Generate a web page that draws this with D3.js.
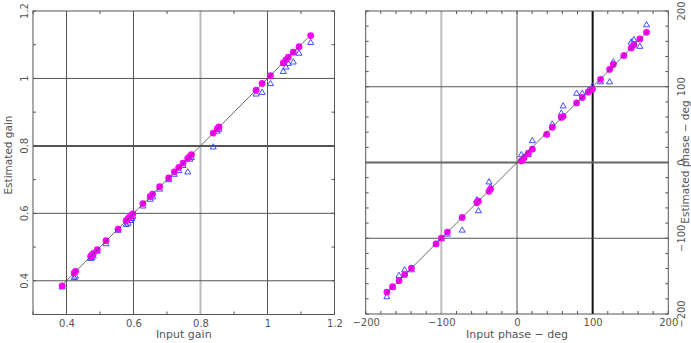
<!DOCTYPE html>
<html>
<head>
<meta charset="utf-8">
<script src="https://cdn.jsdelivr.net/npm/d3@7"></script>
<style>
  body { margin: 0; background: #fff; }
  text { font-family: "DejaVu Sans", sans-serif; fill: #555; }
</style>
</head>
<body>
<svg id="chart" width="691" height="343"></svg>
<script>
// gain panel data
const gainInput = [0.387,0.423,0.427,0.472,0.476,0.480,0.492,0.518,0.554,0.578,0.584,0.590,0.595,0.598,0.628,0.650,0.657,0.678,0.705,0.722,0.735,0.748,0.762,0.768,0.773,0.838,0.850,0.855,0.966,0.984,1.009,1.047,1.055,1.062,1.077,1.094,1.129];
const gainEst   = [0.385,0.423,0.428,0.472,0.477,0.481,0.492,0.519,0.553,0.578,0.585,0.590,0.596,0.598,0.629,0.650,0.657,0.679,0.705,0.723,0.736,0.749,0.763,0.769,0.774,0.838,0.851,0.856,0.965,0.985,1.008,1.046,1.055,1.063,1.078,1.094,1.127];
const gainTri   = [0.381,0.409,0.413,0.465,0.468,0.473,0.487,0.509,0.549,0.566,0.570,0.578,0.584,0.590,0.621,0.641,0.648,0.671,0.699,0.715,0.726,0.741,0.722,0.760,0.765,0.796,0.843,0.849,0.953,0.958,0.984,1.020,1.033,1.044,1.048,1.074,1.106];
const gainTicks = [0.4,0.6,0.8,1,1.2];
const gainLabels = ["0.4","0.6","0.8","1","1.2"];

// phase panel data
const phaseInput = [-172,-164.5,-156,-148.5,-139.5,-107,-100,-92,-72.5,-53,-51,-37,-35,5.8,9.2,15,20.3,39.2,46.7,58.6,61,78.8,86.3,94.3,99.5,110.5,122.4,127.3,141.3,151,154.5,162.4,171.2];
const phaseEst   = [-171,-164,-156,-148,-139.4,-107.3,-99.8,-91.9,-72.6,-53,-51,-38,-35,2.2,5.8,12.3,17.6,37.2,46.4,59.5,61,78.7,85.8,93.1,96.7,109.8,122.9,129.4,141.2,151.3,155.3,163.1,171.8];
const phaseTri   = [-177.5,-165,-149.5,-142,-142,-108,-101,-95,-89.6,-49.5,-64,-26,-33,10,7,10,28.5,37,50.4,64.8,74.4,91,91,95,100,106.2,106.2,132.5,141.2,158.7,161.8,153,181.5];
const phaseTicks = [-200,-100,0,100,200];
const phaseLabels = ["\u2212200","\u2212100","0","100","200"];

const svg = d3.select("#chart");
svg.append("rect").attr("width",691).attr("height",343).attr("fill","#fff");

function panel(opt) {
  const x = d3.scaleLinear().domain(opt.domain).range([opt.left, opt.right]);
  const y = d3.scaleLinear().domain(opt.domain).range([opt.bottom, opt.top]);
  const g = svg.append("g");

  // minor ticks on all four sides
  const minor = d3.range(opt.domain[0], opt.domain[1] + opt.minor/2, opt.minor);
  minor.forEach(v => {
    g.append("line").attr("x1",x(v)).attr("x2",x(v)).attr("y1",opt.top).attr("y2",opt.top+3).attr("stroke","#555");
    g.append("line").attr("x1",x(v)).attr("x2",x(v)).attr("y1",opt.bottom).attr("y2",opt.bottom-3).attr("stroke","#555");
    g.append("line").attr("y1",y(v)).attr("y2",y(v)).attr("x1",opt.left).attr("x2",opt.left+3).attr("stroke","#555");
    g.append("line").attr("y1",y(v)).attr("y2",y(v)).attr("x1",opt.right).attr("x2",opt.right-3).attr("stroke","#555");
  });

  // grid lines
  opt.vgrid.forEach(d => {
    g.append("line").attr("x1",x(d.v)).attr("x2",x(d.v)).attr("y1",opt.top).attr("y2",opt.bottom)
      .attr("stroke",d.c).attr("stroke-width",d.w);
  });
  opt.hgrid.forEach(d => {
    g.append("line").attr("y1",y(d.v)).attr("y2",y(d.v)).attr("x1",opt.left).attr("x2",opt.right)
      .attr("stroke",d.c).attr("stroke-width",d.w);
  });

  // frame
  g.append("rect").attr("x",opt.left).attr("y",opt.top)
    .attr("width",opt.right-opt.left).attr("height",opt.bottom-opt.top)
    .attr("fill","none").attr("stroke","#555");

  // bottom tick labels
  const xa = g.append("g").attr("transform","translate(0,"+(opt.bottom+1)+")")
    .call(d3.axisBottom(x).tickValues(opt.ticks).tickFormat((d,i) => opt.labels[i]).tickSize(0).tickPadding(4));
  xa.select(".domain").remove();
  xa.selectAll("text").style("font-size","10px").attr("fill","#555");

  // side tick labels, rotated
  opt.ticks.forEach((v,i) => {
    g.append("text").attr("transform","translate("+opt.ylabX+","+y(v)+") rotate(-90)")
      .attr("text-anchor","middle").attr("dy","0.35em").style("font-size","10px").text(opt.labels[i]);
  });

  // titles
  g.append("text").attr("x",(opt.left+opt.right)/2).attr("y",338)
    .attr("text-anchor","middle").style("font-size","11px").text(opt.xtitle);
  g.append("text").attr("transform","translate("+opt.ytitleX+","+opt.ytitleY+") rotate(-90)")
    .attr("text-anchor","middle").attr("dy","0.35em").style("font-size","10.5px").text(opt.ytitle);

  // triangles
  const tri = d3.symbol().type(d3.symbolTriangle).size(16);
  g.selectAll(".tri").data(opt.xs).enter().append("path")
    .attr("d",tri)
    .attr("transform",(d,i) => "translate("+x(d)+","+y(opt.tri[i])+")")
    .attr("fill","none").attr("stroke","#2b3cff").attr("stroke-width",0.9);

  // circles
  g.selectAll(".dot").data(opt.xs).enter().append("circle")
    .attr("cx",d => x(d)).attr("cy",(d,i) => y(opt.est[i])).attr("r",3.4)
    .attr("fill","#ff00ff");

  // y = x line
  g.append("line").attr("x1",x(opt.line[0])).attr("y1",y(opt.line[0]))
    .attr("x2",x(opt.line[1])).attr("y2",y(opt.line[1]))
    .attr("stroke","#444").attr("stroke-width",0.8);
}

panel({
  domain:[0.3,1.2], left:33, right:334.5, top:11, bottom:314.5, minor:0.1,
  xs:gainInput, est:gainEst, tri:gainTri, line:[0.39,1.12],
  ticks:gainTicks, labels:gainLabels, ylabX:24,
  xtitle:"Input gain", ytitle:"Estimated gain", ytitleX:8, ytitleY:155,
  vgrid:[{v:0.4,c:"#555",w:1},{v:0.6,c:"#555",w:1},{v:0.8,c:"#bbb",w:2},{v:1,c:"#555",w:1}],
  hgrid:[{v:0.4,c:"#555",w:1},{v:0.6,c:"#555",w:1},{v:0.8,c:"#555",w:2},{v:1,c:"#555",w:1}]
});

panel({
  domain:[-200,200], left:365.7, right:668.3, top:11, bottom:314, minor:20,
  xs:phaseInput, est:phaseEst, tri:phaseTri, line:[-174,172],
  ticks:phaseTicks, labels:phaseLabels, ylabX:681,
  xtitle:"Input phase \u2212 deg", ytitle:"Estimated phase \u2212 deg", ytitleX:685.5, ytitleY:162,
  vgrid:[{v:-100,c:"#bbb",w:2},{v:0,c:"#555",w:1},{v:100,c:"#111",w:2}],
  hgrid:[{v:-100,c:"#555",w:1},{v:0,c:"#666",w:2},{v:100,c:"#555",w:1}]
});
</script>
</body>
</html>
